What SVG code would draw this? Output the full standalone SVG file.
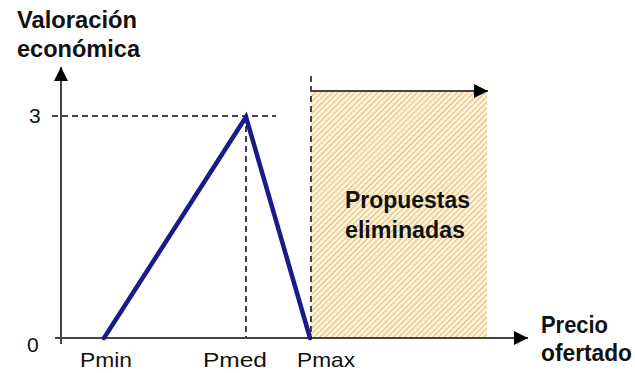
<svg xmlns="http://www.w3.org/2000/svg" width="635" height="373" viewBox="0 0 635 373">
<defs>
<pattern id="hatch" patternUnits="userSpaceOnUse" width="4" height="4" patternTransform="rotate(45)">
<rect width="4" height="4" fill="#fdf2d8"/>
<line x1="0" y1="0" x2="0" y2="4" stroke="#d6ad5c" stroke-width="1.5"/>
</pattern>
<marker id="arr" viewBox="0 0 10 10" refX="10" refY="5" markerWidth="18" markerHeight="14" markerUnits="userSpaceOnUse" orient="auto">
<path d="M0,0 L10,5 L0,10 Z" fill="#000"/>
</marker>
<style>
.lbl{font-family:"Liberation Sans",Arial,sans-serif;font-size:21px;fill:#111}
.bold{font-family:"Liberation Sans",Arial,sans-serif;font-size:23px;font-weight:bold;fill:#111}
.axis{stroke:#444;stroke-width:2;fill:none}
.dash{stroke:#444;stroke-width:2;stroke-dasharray:6,4;fill:none}
.curve{stroke:#1a1a8a;stroke-width:4.5;fill:none;stroke-linejoin:miter;stroke-linecap:round}
</style>
</defs>
<rect width="635" height="373" fill="#fff"/>
<g id="region">
<rect x="311" y="91" width="176" height="247" fill="url(#hatch)"/>
<text class="bold" x="345" y="208" textLength="125" lengthAdjust="spacingAndGlyphs">Propuestas</text>
<text class="bold" x="345" y="238" textLength="120" lengthAdjust="spacingAndGlyphs">eliminadas</text>
</g>
<g id="connectors">
<line class="axis" x1="61" y1="344" x2="61" y2="67" marker-end="url(#arr)"/>
<line class="axis" x1="55" y1="338" x2="528" y2="338" marker-end="url(#arr)"/>
<line class="dash" x1="52" y1="116" x2="276" y2="116"/>
<line class="dash" x1="246" y1="116" x2="246" y2="338"/>
<line class="dash" x1="311" y1="76" x2="311" y2="338"/>
<line class="axis" x1="311" y1="91" x2="488" y2="91" marker-end="url(#arr)"/>
<polyline class="curve" points="104,338 246,117 310,338"/>
</g>
<g id="labels">
<text class="bold" x="17" y="28" textLength="120" lengthAdjust="spacingAndGlyphs">Valoración</text>
<text class="bold" x="17" y="57" textLength="123" lengthAdjust="spacingAndGlyphs">económica</text>
<text class="lbl" x="29" y="123" font-size="24">3</text>
<text class="lbl" x="27" y="352" font-size="23">0</text>
<text class="lbl" x="80" y="367" textLength="52" lengthAdjust="spacingAndGlyphs">Pmin</text>
<text class="lbl" x="203" y="367" textLength="64" lengthAdjust="spacingAndGlyphs">Pmed</text>
<text class="lbl" x="297" y="367" textLength="58" lengthAdjust="spacingAndGlyphs">Pmax</text>
<text class="bold" x="541" y="333" textLength="67" lengthAdjust="spacingAndGlyphs">Precio</text>
<text class="bold" x="541" y="361" textLength="91" lengthAdjust="spacingAndGlyphs">ofertado</text>
</g>
</svg>
